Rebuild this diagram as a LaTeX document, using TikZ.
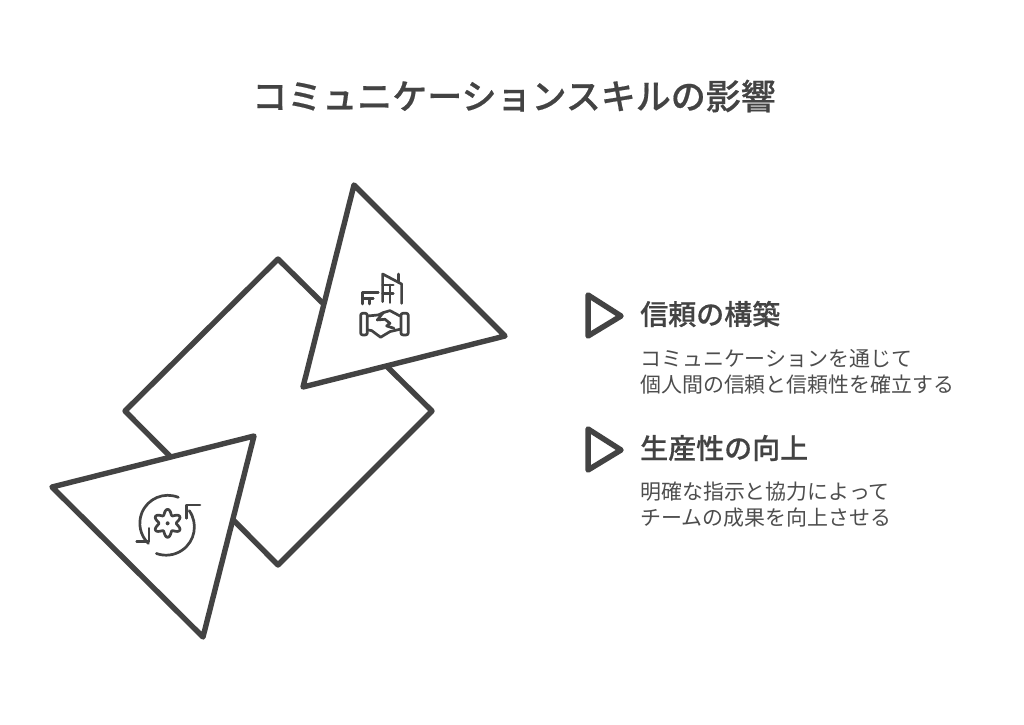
\documentclass[tikz,border=0pt]{standalone}
\usepackage{fontspec}
\setmainfont[BoldFont={Noto Sans CJK JP Medium},BoldFeatures={FakeBold=0.5}]{Noto Sans CJK JP}
\definecolor{inkgray}{HTML}{434343}
\definecolor{bodygray}{HTML}{4D4D4D}
\begin{document}
\begin{tikzpicture}[x=1pt,y=-1pt,
    shapeline/.style={draw=inkgray,line width=5.4pt,line join=round,line cap=round,fill=white},
    iconline/.style={draw=inkgray,line width=2.7pt,line join=round,line cap=round},
    every node/.style={text=inkgray,inner sep=0pt,anchor=west}]
    \useasboundingbox (0,0) rectangle (1024,724);

    \node[anchor=center,font=\fontsize{35}{40}\selectfont\bfseries] (title) at (514,96) {コミュニケーションスキルの影響};

    % Diamond and the two large triangles
    \draw[shapeline] (278,259) -- (432,411) -- (278,565) -- (125,411) -- cycle;
    \draw[shapeline] (354,185) -- (505,336) -- (303,387) -- cycle;
    \draw[shapeline] (254,436) -- (203,637) -- (52,487) -- cycle;

    % Side items
    \foreach \n/\y/\yb/\head/\lineA/\lineB in {
      trust/315/371.5/信頼の構築/コミュニケーションを通じて/個人間の信頼と信頼性を確立する,
      output/449/504.5/生産性の向上/明確な指示と協力によって/チームの成果を向上させる} {
      \draw[shapeline,line width=5.5pt] (588,\y-20) -- (621,\y+1) -- (588,\y+21) -- cycle;
      \node[font=\fontsize{28}{32}\selectfont\bfseries] (head\n) at (640,\y-1) {\head};
      \node[font=\fontsize{20.95}{26}\selectfont,text=bodygray,align=left] (body\n) at (640,\yb) {\lineA\\\lineB};
    }

    % Buildings and handshake
    \begin{scope}[shift={(340,260)},x=0.333pt,y=-0.333pt]
      \draw[iconline] (128,125) -- (128,42) -- (185,72) -- (185,130);
      \draw[iconline] (175,42) -- (175,68);
      \draw[iconline] (128,75) -- (160,75);
      \draw[iconline] (128,100) -- (160,100);
      \draw[iconline] (150,75) -- (150,128);
      \draw[iconline] (68,132) -- (68,97) -- (115,97);
      \draw[iconline] (68,115) -- (100,115);
      \draw[iconline] (88,115) -- (88,132);
      \draw[iconline,rounded corners=2pt] (62,160) rectangle (82,225);
      \draw[iconline,rounded corners=2pt] (183,160) rectangle (205,225);
      \draw[iconline] (84,168) -- (115,165) -- (130,158) -- (150,152) -- (180,168);
      \draw[iconline] (84,210) -- (95,212) -- (122,232) -- (150,215) -- (180,208);
      \draw[iconline] (130,158) -- (112,180) -- (135,178) -- (150,190) -- (140,198) -- (162,205);
    \end{scope}

    % Gear with the two turning arrows
    \begin{scope}[shift={(125,490)},x=0.333pt,y=-0.333pt]
      \draw[iconline] plot[domain=0:355,samples=72,smooth cycle]
        ({128+(34-8*cos(6*\x))*cos(\x)},{100+(34-8*cos(6*\x))*sin(\x)});
      \fill[inkgray] (128,100) circle (6);
      \draw[iconline] (160,22) arc[start angle=-68,end angle=-226,radius=84];
      \draw[iconline] (35,155) -- (72,155) -- (72,115);
      \draw[iconline] (193,62) arc[start angle=-35,end angle=110,radius=85];
      \draw[iconline] (225,45) -- (185,45) -- (185,85);
    \end{scope}
\end{tikzpicture}
\end{document}
